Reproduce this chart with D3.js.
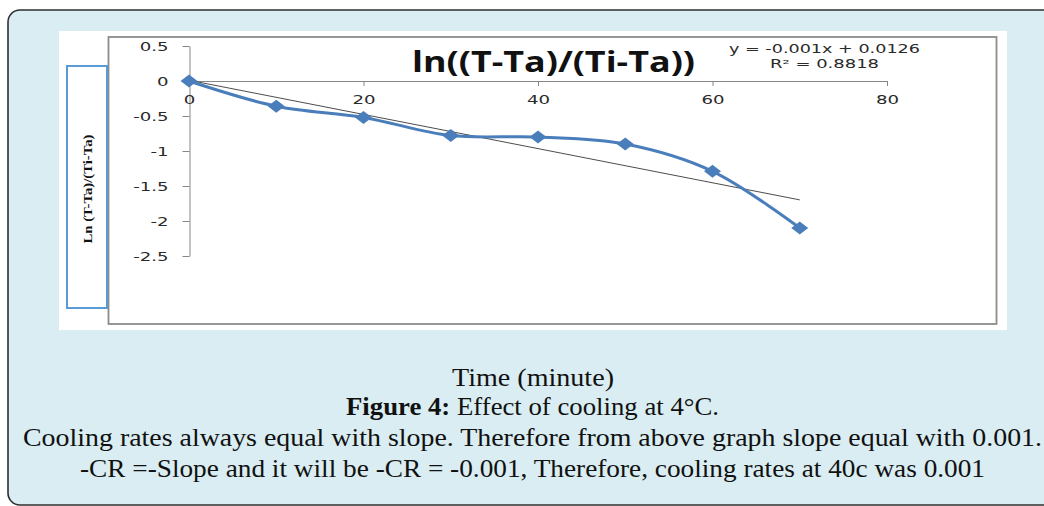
<!DOCTYPE html>
<html>
<head>
<meta charset="utf-8">
<script src="https://cdn.jsdelivr.net/npm/d3@7"></script>
<style>
  body { margin: 0; background: #fff; }
  svg { display: block; }
</style>
</head>
<body>
<div id="container"></div>
<script>
const width = 1044;
const height = 506;

// data
const times = [0, 10, 20, 30, 40, 50, 60, 70];
const lnRatio = [0, -0.36, -0.52, -0.78, -0.80, -0.90, -1.29, -2.10];
const xTicks = [0, 20, 40, 60, 80];
const yTicks = [0.5, 0, -0.5, -1, -1.5, -2, -2.5];
const chartTitle = "ln((T-Ta)/(Ti-Ta))";
const equationLines = ["y = -0.001x + 0.0126", "R\u00b2 = 0.8818"];
const yLabel = "Ln (T-Ta)/(Ti-Ta)";
const xLabel = "Time (minute)";
const figureBold = "Figure 4:";
const figureText = " Effect of cooling at 4\u00b0C.";
const noteLines = [
  "Cooling rates always equal with slope. Therefore from above graph slope equal with 0.001.",
  "-CR =-Slope and it will be -CR = -0.001, Therefore, cooling rates at 40c was 0.001"
];

const points = times.map((t, i) => ({ t, v: lnRatio[i] }));

const svg = d3.select("#container")
  .append("svg")
  .attr("width", width)
  .attr("height", height)
  .attr("viewBox", [0, 0, width, height]);

// the picture is stretched sideways, so text is stretched the same way
function stretch(sel, k) {
  sel.each(function () {
    const w = this.getComputedTextLength();
    d3.select(this).attr("textLength", w * k).attr("lengthAdjust", "spacingAndGlyphs");
  });
}
function fitTo(sel, w) {
  sel.attr("textLength", w).attr("lengthAdjust", "spacingAndGlyphs");
}

// outer panel
svg.append("rect")
  .attr("x", 8).attr("y", 10)
  .attr("width", 1100).attr("height", 495)
  .attr("rx", 12)
  .attr("fill", "#d9edf2")
  .attr("stroke", "#2e2e2e")
  .attr("stroke-width", 1.6);

// white chart area
svg.append("rect")
  .attr("x", 59).attr("y", 31)
  .attr("width", 948).attr("height", 299)
  .attr("fill", "#fff");

// plot frame
svg.append("rect")
  .attr("x", 108.5).attr("y", 37)
  .attr("width", 888).attr("height", 287)
  .attr("fill", "#fff")
  .attr("stroke", "#8c8c8c")
  .attr("stroke-width", 1.8);

// y label box
svg.append("rect")
  .attr("x", 67).attr("y", 66)
  .attr("width", 40).attr("height", 242)
  .attr("fill", "#fff")
  .attr("stroke", "#5b9bd5")
  .attr("stroke-width", 2);

svg.append("text")
  .attr("transform", "translate(92,189) rotate(-90)")
  .attr("text-anchor", "middle")
  .attr("font-family", "Liberation Serif")
  .attr("font-weight", "bold")
  .attr("font-size", 13.5)
  .attr("fill", "#111")
  .text(yLabel)
  .call(fitTo, 109);

const x = d3.scaleLinear().domain([0, 80]).range([189, 887]);
const y = d3.scaleLinear().domain([0.5, -2.5]).range([46, 256]);

const yAxis = svg.append("g")
  .attr("transform", "translate(189.5,0)")
  .call(d3.axisLeft(y).tickValues(yTicks).tickSize(7).tickSizeOuter(0).tickPadding(14)
    .tickFormat(d => String(d)));

const xAxis = svg.append("g")
  .attr("transform", `translate(0,${y(0)})`)
  .call(d3.axisBottom(x).tickValues(xTicks).tickSize(5).tickSizeOuter(0).tickPadding(9)
    .tickFormat(d => String(d)));

[yAxis, xAxis].forEach(g => {
  g.select(".domain").attr("stroke", "#868686");
  g.selectAll(".tick line").attr("stroke", "#868686");
  g.selectAll(".tick text")
    .attr("font-family", "DejaVu Sans")
    .attr("font-size", 12.5)
    .attr("fill", "#2a2a2a")
    .call(stretch, 1.45);
});

// linear trendline from the points
const mt = d3.mean(times), mv = d3.mean(lnRatio);
const slope = d3.sum(points, p => (p.t - mt) * (p.v - mv)) / d3.sum(points, p => (p.t - mt) ** 2);
const icpt = mv - slope * mt;
const tEnds = [d3.min(times), d3.max(times)];

svg.append("line")
  .attr("x1", x(tEnds[0])).attr("y1", y(icpt + slope * tEnds[0]))
  .attr("x2", x(tEnds[1])).attr("y2", y(icpt + slope * tEnds[1]))
  .attr("stroke", "#4d4d4d")
  .attr("stroke-width", 1);

const line = d3.line()
  .x(d => x(d.t))
  .y(d => y(d.v))
  .curve(d3.curveCatmullRom.alpha(0.5));

svg.append("path")
  .datum(points)
  .attr("fill", "none")
  .attr("stroke", "#4a7ebb")
  .attr("stroke-width", 3)
  .attr("d", line);

svg.append("g")
  .selectAll("path")
  .data(points)
  .join("path")
  .attr("transform", d => `translate(${x(d.t)},${y(d.v)})`)
  .attr("d", "M-8.5,0L0,-6.5L8.5,0L0,6.5Z")
  .attr("fill", "#4a7ebb");

// title and equation
svg.append("text")
  .attr("x", 553.5).attr("y", 72)
  .attr("text-anchor", "middle")
  .attr("font-family", "Open Sans")
  .attr("font-weight", "bold")
  .attr("font-size", 28)
  .attr("fill", "#111")
  .text(chartTitle)
  .call(fitTo, 283);

svg.append("g")
  .selectAll("text")
  .data(equationLines)
  .join("text")
  .attr("x", 824.5)
  .attr("y", (d, i) => 52.5 + i * 15.5)
  .attr("text-anchor", "middle")
  .attr("font-family", "DejaVu Sans")
  .attr("font-size", 11.5)
  .attr("fill", "#2a2a2a")
  .text(d => d)
  .each(function (d, i) { d3.select(this).call(fitTo, i === 0 ? 191 : 109); });

// caption
const capFont = "Liberation Serif";
const capSize = 24.5;
svg.append("text")
  .attr("x", 533).attr("y", 386)
  .attr("text-anchor", "middle")
  .attr("font-family", capFont)
  .attr("font-size", capSize)
  .attr("fill", "#111")
  .text(xLabel)
  .call(fitTo, 162);

const fig = svg.append("text")
  .attr("x", 532.5).attr("y", 415)
  .attr("text-anchor", "middle")
  .attr("font-family", capFont)
  .attr("font-size", capSize)
  .attr("fill", "#111");
fig.append("tspan").attr("font-weight", "bold").text(figureBold);
fig.append("tspan").text(figureText);
fig.call(fitTo, 373);

svg.append("g")
  .selectAll("text")
  .data(noteLines)
  .join("text")
  .attr("x", 532.5)
  .attr("y", (d, i) => 446 + i * 31)
  .attr("text-anchor", "middle")
  .attr("font-family", capFont)
  .attr("font-size", capSize)
  .attr("fill", "#111")
  .text(d => d)
  .each(function (d, i) { d3.select(this).call(fitTo, i === 0 ? 1019 : 905); });
</script>
</body>
</html>
